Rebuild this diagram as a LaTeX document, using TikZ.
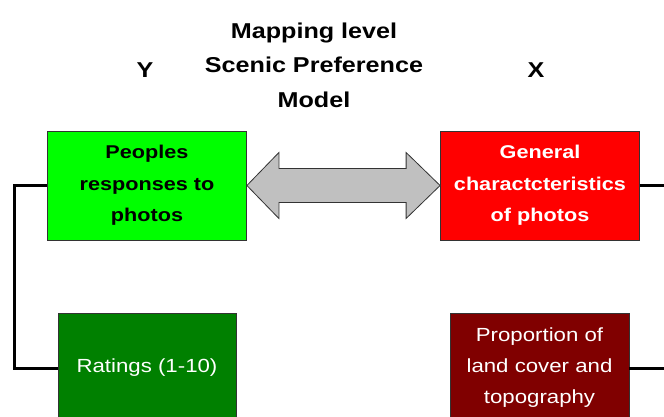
\documentclass[tikz,border=0pt]{standalone}
\usepackage{fontspec}
\setmainfont{Liberation Sans}[FakeStretch=1.17]
\usetikzlibrary{calc}
\definecolor{brightgreen}{HTML}{00FF00}
\definecolor{brightred}{HTML}{FF0000}
\definecolor{darkgreenbox}{HTML}{008000}
\definecolor{maroonbox}{HTML}{800000}
\definecolor{arrowgray}{HTML}{C0C0C0}
\definecolor{edgegray}{HTML}{333333}
\begin{document}
\begin{tikzpicture}[x=1pt,y=1pt,
  box/.style={minimum width=#1,align=center,inner sep=0pt},
  topbox/.style={box=199pt,draw=edgegray,line width=0.8pt,minimum height=109pt,font=\fontsize{18.5}{31.5}\selectfont\bfseries},
  lowbox/.style={box=178pt,minimum height=110pt,font=\fontsize{19}{31}\selectfont,text=white},
  lowedge/.style={draw=edgegray,line width=0.8pt},
  title/.style={font=\fontsize{21.5}{34.5}\selectfont\bfseries,align=center},
  conn/.style={line width=3pt}]
\useasboundingbox (0,0) rectangle (664,-417);
\node[title] (ttl) at (314,-65) {Mapping level\\Scenic Preference\\Model};
\node[title] (ylab) at (145,-70) {Y};
\node[title] (xlab) at (536,-70) {X};
\node[topbox,fill=brightgreen] (green) at (147,-185.5) {Peoples\\responses to\\photos};
\node[topbox,fill=brightred,text=white] (red) at (540,-185.5) {General\\charactcteristics\\of photos};
\fill[darkgreenbox] (58,-313) rectangle (236,-430);
\fill[maroonbox] (450,-313) rectangle (629,-430);
\draw[lowedge] (58,-430) |- (236,-313) -- (236,-430);
\draw[lowedge] (450,-430) |- (629,-313) -- (629,-430);
\node[lowbox] (ratings) at (147,-368) {Ratings (1-10)};
\node[lowbox,minimum width=179pt] (brown) at (539.5,-368) {Proportion of\\land cover and\\topography};
\coordinate (redend) at (664,-185.5);
\coordinate (brownend) at (664,-368);
\draw[conn] (green.west) -- ++(-33,0) |- (ratings.west);
\draw[conn] (red.east) -- (redend);
\draw[conn] (brown.east) -- (brownend);
\draw[fill=arrowgray,draw=edgegray,line width=0.8pt,line join=miter]
  (green.east) -- ++(32,33) -- ++(0,-16)
  -- ($(red.west)+(-34,17)$) -- ++(0,16) -- (red.west)
  -- ++(-34,-33) -- ++(0,16) -- ($(green.east)+(32,-17)$) -- ++(0,-16) -- cycle;
\end{tikzpicture}
\end{document}
